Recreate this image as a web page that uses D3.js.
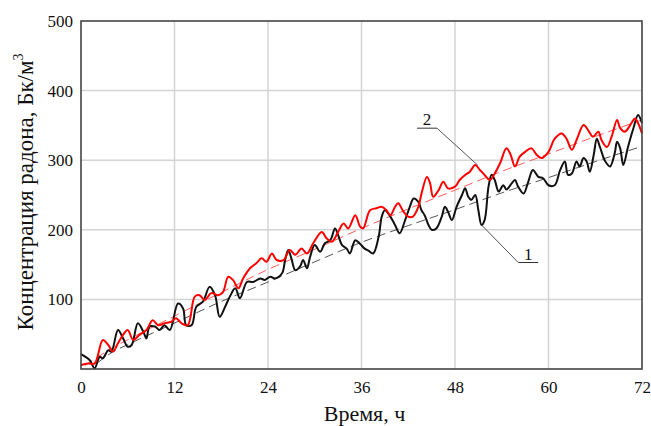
<!DOCTYPE html>
<html>
<head>
<meta charset="utf-8">
<script src="https://cdnjs.cloudflare.com/ajax/libs/d3/7.8.5/d3.min.js"></script>
<style>
  body { margin: 0; background: #fff; }
</style>
</head>
<body>
<div id="chart"></div>
<script>
const FONT = '"Liberation Serif", "DejaVu Serif", "Times New Roman", serif';

// Ось X (часы) и ось Y (Бк/м3)
const xTicks = [0, 12, 24, 36, 48, 60, 72];
const yTicks = [100, 200, 300, 400, 500];

// Кривая 1 (чёрная), [время, концентрация]
const series1 = [[0,21.5],[1.1,13],[1.75,1],[2.4,17.7],[2.8,15.3],[3.5,27],[3.9,25],[4.75,56],[5.4,44],[6.0,32],[6.5,34.5],[7.3,65.6],[8.0,53.6],[8.4,44],[8.8,61],[9.5,61],[10.1,56],[10.7,63],[11.4,56],[12.45,94],[13.1,87],[13.5,63],[14.2,63],[14.8,89.5],[15.65,96.7],[16.5,118],[17.2,106],[17.8,75],[18.5,89.5],[19.1,104],[19.8,116],[20.4,101.6],[21.3,125],[22.1,125],[23.0,130],[23.6,128],[24.3,132.6],[24.9,130],[25.8,137.5],[26.2,156.6],[26.6,171],[27.0,159],[27.5,142],[28.1,147],[28.5,156.6],[29.0,144.7],[29.4,161],[30.0,178],[30.7,168.5],[31.3,180.6],[32.0,185],[32.6,202],[33.0,192.5],[33.5,178],[34.1,173],[34.5,166],[35.2,185],[35.8,180],[36.4,173],[36.9,170],[37.5,166],[38.2,190],[38.6,219],[39.0,228],[39.7,219],[40.3,207],[40.9,195],[41.6,214],[42.2,233],[42.7,245],[43.3,240],[43.7,228],[44.1,221],[44.6,207],[45.0,200],[45.6,202],[46.3,219],[46.7,233],[47.1,226],[47.6,214],[48.2,233],[48.9,250],[49.3,259.6],[49.7,247.6],[50.1,243],[50.6,250],[51.0,228],[51.4,207],[51.8,214],[52.3,262],[52.7,279],[53.1,271.6],[53.6,255],[54.2,264],[54.6,258],[55.3,267],[55.7,271.6],[56.1,262],[56.8,252],[57.4,269],[58.0,286],[58.7,276],[59.3,274],[60.0,264],[60.8,264],[61.5,286],[62.1,298],[62.5,279],[63.0,281],[63.6,298],[64.0,291],[64.5,303],[64.9,298],[65.3,283.5],[65.8,307.5],[66.2,331],[66.6,319],[67.3,298],[67.9,291],[68.5,310],[68.8,326.6],[69.2,317],[69.6,293],[70.2,319],[70.9,346],[71.5,365],[72,353]];

// Кривая 2 (красная)
const series2 = [[0,5.7],[0.9,8],[1.75,8],[2.8,41.7],[3.5,34.5],[4.1,25],[4.75,37],[5.4,49],[6.0,56],[6.7,41.7],[7.5,49],[8.4,56],[9.2,70],[9.9,63],[10.7,65.6],[11.6,68],[12.2,73],[12.9,65.6],[13.7,63],[14.6,104],[15.2,106],[15.9,99],[16.7,109],[17.6,106],[18.2,110],[18.9,132.6],[19.5,128],[20.2,116],[20.8,130],[21.7,144.7],[22.5,152],[23.2,159],[23.8,154],[24.5,166],[25.1,156.6],[26.0,156.6],[26.8,171],[27.5,164],[28.3,173],[29.0,166],[29.8,180.6],[30.9,197],[31.5,188],[32.2,183],[33.0,197],[33.7,209],[34.3,202],[35.2,221],[35.8,205],[36.2,202],[37.1,228],[37.9,231],[38.6,233],[39.2,228],[39.7,221],[40.3,233],[40.7,238],[41.4,226],[42.0,219],[42.6,219],[43.3,233],[43.7,252],[44.4,276],[44.8,267],[45.2,247.6],[45.9,257],[46.5,269],[47.1,259.6],[48.0,262],[48.6,271.6],[49.3,278.7],[49.9,283.5],[50.6,293],[51.2,286],[51.8,278.7],[52.5,271.6],[53.1,281],[53.8,296],[54.6,317],[55.1,309],[55.7,291],[56.3,305],[57.0,312],[57.8,317],[58.5,307.5],[59.1,303],[60.0,312],[60.8,331],[61.7,338.5],[62.3,331],[63.0,315],[63.6,329],[64.5,350.6],[65.1,343],[65.7,333.8],[66.4,341],[66.8,329],[67.5,319],[68.1,333.8],[68.8,357.8],[69.2,346],[69.8,341],[70.5,350.6],[71.1,360],[71.5,353],[72,338.5]];

// Аппроксимирующие кривые (пунктир)
const trend1 = [[2,8],[4,24],[6,35],[12,66],[18,97],[24,125],[30,154],[36,182],[42,206],[48,229],[54,253],[60,275],[66,298],[72,320]];
const trend2 = [[0.5,5],[4,30],[6,42],[12,76],[18,110],[24,143],[30,172],[36,202],[42,230],[48,257],[54,284],[60,309],[66,334],[72,358]];

// Подписи кривых: текст, [t, c] подписи, [t, c] конца выноски
const labels = [
  {text: '1', at: [57.4, 153], to: [51.4, 207]},
  {text: '2', at: [44.4, 346], to: [50.9, 293]}
];

const W = 651, H = 426;
const margin = {top: 21, right: 9, bottom: 57, left: 81};
const width = W - margin.left - margin.right;
const height = H - margin.top - margin.bottom;

const svg = d3.select('#chart').append('svg')
  .attr('width', W)
  .attr('height', H)
  .style('font-family', FONT);
const g = svg.append('g')
  .attr('transform', `translate(${margin.left},${margin.top})`);

const x = d3.scaleLinear().domain([0, 72]).range([0, width]);
const y = d3.scaleLinear().domain([0, 500]).range([height, 0]);

// Сетка
g.append('g').selectAll('line')
  .data(xTicks.slice(1, -1))
  .enter().append('line')
  .attr('x1', d => x(d)).attr('x2', d => x(d))
  .attr('y1', 0).attr('y2', height)
  .attr('stroke', '#d4d4d4').attr('stroke-width', 1.5);
g.append('g').selectAll('line')
  .data(yTicks.slice(0, -1))
  .enter().append('line')
  .attr('x1', 0).attr('x2', width)
  .attr('y1', d => y(d)).attr('y2', d => y(d))
  .attr('stroke', '#d4d4d4').attr('stroke-width', 1.5);

// Оси
const xAxis = g.append('g')
  .attr('transform', `translate(0,${height})`)
  .call(d3.axisBottom(x).tickValues(xTicks).tickSize(0).tickPadding(12));
const yAxis = g.append('g')
  .call(d3.axisLeft(y).tickValues(yTicks).tickSize(0).tickPadding(8));
[xAxis, yAxis].forEach(a => {
  a.attr('font-family', FONT).attr('font-size', 17);
  a.select('.domain').remove();
  a.selectAll('text').attr('fill', '#111');
});

// Линии
const line = d3.line()
  .x(d => x(d[0]))
  .y(d => y(d[1]))
  .curve(d3.curveCatmullRom.alpha(0.5));
const smooth = d3.line()
  .x(d => x(d[0]))
  .y(d => y(d[1]))
  .curve(d3.curveMonotoneX);

g.append('path').datum(trend1)
  .attr('d', smooth).attr('fill', 'none')
  .attr('stroke', '#555').attr('stroke-width', 1)
  .attr('stroke-dasharray', '9,5');
g.append('path').datum(trend2)
  .attr('d', smooth).attr('fill', 'none')
  .attr('stroke', '#ff5a5a').attr('stroke-width', 1)
  .attr('stroke-dasharray', '9,5');
g.append('path').datum(series1)
  .attr('d', line).attr('fill', 'none')
  .attr('stroke', '#111').attr('stroke-width', 2)
  .attr('stroke-linejoin', 'round');
g.append('path').datum(series2)
  .attr('d', line).attr('fill', 'none')
  .attr('stroke', '#ff0000').attr('stroke-width', 2)
  .attr('stroke-linejoin', 'round');

// Рамка
g.append('rect')
  .attr('width', width).attr('height', height)
  .attr('fill', 'none')
  .attr('stroke', '#444').attr('stroke-width', 1.6);

// Выноски
labels.forEach(l => {
  const lx = x(l.at[0]), ly = y(l.at[1]);
  const half = 10;
  const anchorX = l.to[0] > l.at[0] ? lx + half : lx - half;
  g.append('line')
    .attr('x1', lx - half).attr('x2', lx + half)
    .attr('y1', ly).attr('y2', ly)
    .attr('stroke', '#333').attr('stroke-width', 1);
  g.append('line')
    .attr('x1', anchorX).attr('y1', ly)
    .attr('x2', x(l.to[0])).attr('y2', y(l.to[1]))
    .attr('stroke', '#555').attr('stroke-width', 1);
  g.append('text')
    .attr('x', lx).attr('y', ly - 3)
    .attr('text-anchor', 'middle')
    .attr('font-size', 17)
    .attr('fill', '#111')
    .text(l.text);
});

// Подписи осей
svg.append('text')
  .attr('x', margin.left + width / 2 + 3)
  .attr('y', 421)
  .attr('text-anchor', 'middle')
  .attr('font-size', 22)
  .attr('fill', '#111')
  .text('Время, ч');

const yTitle = svg.append('text')
  .attr('transform', 'translate(33,192) rotate(-90)')
  .attr('text-anchor', 'middle')
  .attr('font-size', 23)
  .attr('fill', '#111');
yTitle.append('tspan').text('Концентрация радона, Бк/м');
yTitle.append('tspan').attr('dy', -10).attr('font-size', 14).text('3');
</script>
</body>
</html>
